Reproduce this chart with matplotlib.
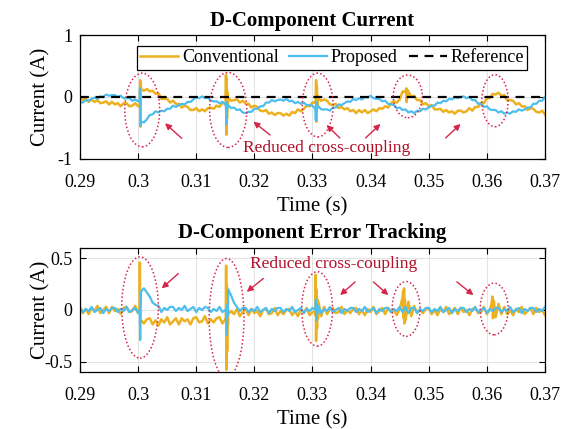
import numpy as np
import matplotlib
matplotlib.use("Agg")
import matplotlib.pyplot as plt
from matplotlib.patches import Ellipse

plt.rcParams['font.family'] = ['Liberation Serif', 'DejaVu Serif']
plt.rcParams['axes.unicode_minus'] = False

# sample grid (0.5 ms steps)
t = np.linspace(0.29, 0.37, 161)

# top plot - d-axis current, conventional
conv_cur = [0.00, -0.05, -0.03, -0.08, -0.04, -0.08, -0.05, -0.10, -0.09, -0.07,
            -0.12, -0.08, -0.12, -0.10, -0.15, -0.10, -0.10, -0.15, -0.14, -0.10,
            -0.15, 0.13, 0.10, 0.13, 0.09, 0.10, 0.05, 0.06, -0.03, -0.03,
            -0.03, -0.09, -0.06, -0.11, -0.11, -0.17, -0.14, -0.16, -0.21, -0.21,
            -0.18, -0.23, -0.20, -0.23, -0.18, -0.17, -0.19, -0.14, -0.16, -0.09,
            -0.11, -0.01, -0.06, -0.05, -0.04, -0.09, -0.06, -0.11, -0.11, -0.17,
            -0.14, -0.16, -0.22, -0.23, -0.21, -0.27, -0.25, -0.29, -0.26, -0.26,
            -0.30, -0.27, -0.30, -0.24, -0.26, -0.20, -0.23, -0.19, -0.14, -0.15,
            -0.09, -0.09, -0.02, -0.06, -0.04, -0.06, -0.12, -0.13, -0.11, -0.18,
            -0.16, -0.20, -0.18, -0.23, -0.21, -0.26, -0.21, -0.25, -0.21, -0.26,
            -0.23, -0.20, -0.23, -0.18, -0.19, -0.15, -0.17, -0.10, -0.07, -0.09,
            -0.04, 0.09, 0.08, 0.09, 0.00, 0.02, -0.05, -0.05, -0.12, -0.10,
            -0.15, -0.13, -0.20, -0.20, -0.19, -0.24, -0.21, -0.25, -0.23, -0.27,
            -0.22, -0.22, -0.25, -0.23, -0.18, -0.22, -0.16, -0.16, -0.09, -0.10,
            -0.02, -0.02, 0.05, 0.04, 0.07, 0.02, 0.03, -0.05, -0.05, -0.06,
            -0.12, -0.10, -0.15, -0.15, -0.21, -0.18, -0.19, -0.24, -0.25, -0.22,
            -0.28]
conv_cur_spk_t = [0.30030, 0.30036, 0.30042, 0.30046,
                  0.31505, 0.31512, 0.31518, 0.31524, 0.31530, 0.31538, 0.31545,
                  0.33055, 0.33062, 0.33068, 0.33075, 0.33082, 0.33090,
                  0.34615, 0.34622, 0.34630, 0.34638]
conv_cur_spk_v = [-0.14, 0.27, -0.48, 0.22,
                  -0.12, 0.36, -0.61, 0.30, -0.35, 0.08, -0.10,
                  -0.08, 0.27, -0.40, 0.18, -0.15, 0.02,
                  0.14, -0.08, 0.12, 0.02]

# top plot - proposed
prop_cur = [-0.08, -0.09, -0.05, -0.06, -0.03, -0.01, -0.03, 0.01, 0.00, 0.04,
            0.02, 0.03, 0.03, 0.00, 0.02, -0.02, -0.02, -0.02, -0.06, -0.04,
            -0.07, -0.40, -0.41, -0.36, -0.29, -0.28, -0.23, -0.25, -0.22, -0.23,
            -0.19, -0.19, -0.14, -0.16, -0.13, -0.11, -0.12, -0.08, -0.08, -0.04,
            0.00, -0.02, 0.01, -0.02, -0.01, -0.06, -0.07, -0.07, -0.10, -0.08,
            -0.12, -0.13, -0.18, -0.17, -0.21, -0.20, -0.25, -0.26, -0.24, -0.24,
            -0.19, -0.19, -0.15, -0.15, -0.09, -0.09, -0.05, -0.07, -0.05, -0.04,
            -0.06, -0.03, -0.07, -0.06, -0.10, -0.08, -0.11, -0.09, -0.13, -0.13,
            -0.14, -0.19, -0.15, -0.20, -0.20, -0.20, -0.22, -0.17, -0.17, -0.12,
            -0.13, -0.10, -0.07, -0.08, -0.03, -0.05, -0.02, -0.04, 0.00, -0.01,
            0.02, -0.02, -0.03, -0.03, -0.07, -0.06, -0.11, -0.12, -0.13, -0.18,
            -0.17, -0.21, -0.20, -0.25, -0.23, -0.26, -0.22, -0.23, -0.19, -0.20,
            -0.17, -0.14, -0.14, -0.09, -0.10, -0.06, -0.07, -0.03, -0.04, 0.00,
            -0.02, 0.00, 0.01, -0.02, 0.00, -0.05, -0.05, -0.11, -0.11, -0.16,
            -0.15, -0.20, -0.21, -0.21, -0.25, -0.23, -0.27, -0.25, -0.27, -0.23,
            -0.24, -0.20, -0.22, -0.20, -0.17, -0.17, -0.11, -0.11, -0.06, -0.06,
            0.00]
prop_cur_spk_t = [0.30025, 0.30032, 0.30038, 0.30044,
                  0.31510, 0.31518, 0.31525, 0.31532, 0.31540,
                  0.33050, 0.33058, 0.33065, 0.33072, 0.33085]
prop_cur_spk_v = [-0.07, 0.14, -0.20, -0.46,
                  -0.12, -0.44, -0.08, -0.20, -0.12,
                  -0.18, -0.38, -0.08, -0.22, -0.17]

# bottom plot - tracking error, conventional
conv_err = [0.03, -0.03, 0.01, -0.04, 0.02, -0.01, 0.04, -0.03, 0.00, 0.03,
            -0.03, 0.03, -0.01, 0.01, -0.04, 0.02, 0.03, -0.02, -0.01, 0.04,
            -0.03, -0.10, -0.13, -0.09, -0.08, -0.14, -0.10, -0.15, -0.09, -0.12,
            -0.07, -0.14, -0.11, -0.08, -0.14, -0.08, -0.11, -0.09, -0.14, -0.08,
            -0.07, -0.12, -0.11, -0.06, -0.13, -0.09, -0.12, -0.08, -0.07, -0.13,
            -0.09, -0.04, -0.01, -0.04, 0.01, -0.06, -0.02, 0.01, -0.05, 0.01,
            -0.03, -0.01, -0.06, 0.00, 0.01, -0.04, -0.03, 0.02, -0.05, -0.01,
            -0.04, 0.00, 0.01, -0.05, -0.01, -0.06, 0.00, -0.03, 0.02, -0.05,
            -0.02, -0.05, 0.08, -0.06, 0.03, -0.04, 0.01, 0.02, -0.03, -0.02,
            0.03, -0.04, 0.00, -0.03, 0.01, 0.02, -0.04, 0.00, -0.05, 0.01,
            -0.02, 0.03, -0.04, -0.01, 0.02, -0.04, 0.02, -0.02, 0.00, -0.05,
            0.01, 0.12, -0.10, 0.08, -0.06, 0.04, -0.03, 0.00, -0.03, 0.01,
            0.02, -0.04, 0.00, -0.05, 0.01, -0.02, 0.03, -0.04, -0.01, 0.02,
            -0.04, 0.02, -0.02, 0.00, -0.05, 0.01, 0.02, -0.03, -0.02, 0.03,
            -0.04, 0.00, 0.10, -0.07, 0.06, -0.04, 0.03, -0.04, 0.00, -0.05,
            0.01, -0.02, 0.03, -0.04, -0.01, 0.02, -0.04, 0.02, -0.02, 0.00,
            -0.05]
conv_err_spk_t = [0.30025, 0.30030, 0.30036, 0.30042,
                  0.31508, 0.31514, 0.31520, 0.31526, 0.31532, 0.31538, 0.31545,
                  0.33045, 0.33055, 0.33062, 0.33070, 0.33078, 0.33088, 0.33095,
                  0.34560, 0.34568, 0.34575, 0.34582, 0.34590,
                  0.36080, 0.36095, 0.36105, 0.36120]
conv_err_spk_v = [0.02, 0.46, -0.02, -0.12,
                  -0.10, 0.43, -0.58, 0.25, -0.40, 0.10, -0.15,
                  -0.02, 0.34, -0.30, 0.20, -0.18, 0.10, -0.08,
                  0.18, -0.08, 0.21, -0.13, 0.10,
                  0.06, 0.13, -0.08, 0.09]

# bottom plot - proposed
prop_err = [0.02, -0.02, 0.01, -0.01, 0.03, -0.02, 0.00, 0.02, -0.03, 0.01,
            -0.01, 0.02, 0.02, -0.02, 0.01, -0.01, 0.03, -0.02, 0.00, 0.02,
            -0.03, 0.18, 0.21, 0.17, 0.13, 0.07, 0.05, 0.04, -0.02, 0.02,
            0.00, 0.03, 0.03, -0.01, 0.02, 0.00, 0.04, -0.01, 0.01, 0.03,
            -0.02, 0.02, 0.00, 0.03, 0.02, -0.02, 0.01, -0.01, 0.03, -0.02,
            0.00, 0.20, 0.14, 0.07, 0.03, -0.01, 0.02, 0.02, -0.02, 0.01,
            -0.01, 0.03, -0.02, 0.00, 0.02, -0.03, 0.01, -0.01, 0.02, 0.02,
            -0.02, 0.01, -0.01, 0.03, -0.02, 0.00, 0.02, -0.03, 0.01, -0.01,
            0.02, 0.00, 0.04, -0.03, 0.01, -0.01, 0.03, -0.02, 0.00, 0.02,
            -0.03, 0.01, -0.01, 0.02, 0.02, -0.02, 0.01, -0.01, 0.03, -0.02,
            0.00, 0.02, -0.03, 0.01, -0.01, 0.02, 0.02, -0.02, 0.01, -0.01,
            0.03, -0.02, 0.03, -0.03, 0.02, 0.02, -0.03, 0.01, -0.01, 0.02,
            0.02, -0.02, 0.01, -0.01, 0.03, -0.02, 0.00, 0.02, -0.03, 0.01,
            -0.01, 0.02, 0.02, -0.02, 0.01, -0.01, 0.03, -0.02, 0.00, 0.02,
            -0.03, 0.01, -0.01, 0.02, 0.02, -0.02, 0.01, -0.01, 0.03, -0.02,
            0.00, 0.02, -0.03, 0.01, -0.01, 0.02, 0.02, -0.02, 0.01, -0.01,
            0.03]
prop_err_spk_t = [0.30028, 0.30036, 0.30044, 0.30048,
                  0.31515, 0.31525, 0.31535, 0.31545,
                  0.33050, 0.33058, 0.33066, 0.33075, 0.33085]
prop_err_spk_v = [0.00, -0.29, 0.05, 0.10,
                  0.01, -0.24, 0.05, -0.05,
                  0.00, 0.10, -0.10, 0.06, -0.03]

# highlighted regions: (center t, center value, width, height)
top_ellipses = [(0.3007, -0.21, 0.0060, 1.19), (0.3155, -0.21, 0.0064, 1.21),
                (0.3309, -0.13, 0.0053, 1.03), (0.3464, 0.01, 0.0050, 0.69),
                (0.3614, -0.06, 0.0045, 0.84)]
bot_ellipses = [(0.30033, 0.024, 0.0063, 0.98), (0.31522, -0.077, 0.0060, 1.15),
                (0.33080, 0.01, 0.0053, 0.72), (0.34611, 0.01, 0.0048, 0.53),
                (0.36126, 0.01, 0.0048, 0.50)]
# arrows: (tail, head)
top_arrows = [((0.30750, -0.666), (0.30463, -0.424)), ((0.32270, -0.613), (0.31983, -0.398)),
              ((0.33470, -0.661), (0.33242, -0.452)), ((0.33913, -0.661), (0.34170, -0.435)),
              ((0.35290, -0.661), (0.35549, -0.435))]
bot_arrows = [((0.30692, 0.353), (0.30406, 0.209)), ((0.32155, 0.305), (0.31869, 0.176)),
              ((0.33733, 0.272), (0.33475, 0.144)), ((0.34048, 0.272), (0.34306, 0.144)),
              ((0.35484, 0.272), (0.35769, 0.144))]

ORANGE = '#EDB120'
BLUE = '#4DBEEE'
ELL_C = '#D6254A'
TXT_C = '#B0102A'


def merge(tb, vb, ts, vs):
    tt = np.concatenate([tb, ts])
    vv = np.concatenate([vb, vs])
    idx = np.argsort(tt, kind='stable')
    return tt[idx], vv[idx]


def style_axes(ax, yticks, ylim):
    ax.set_xlim(0.29, 0.37)
    ax.set_ylim(*ylim)
    ax.set_xticks(np.linspace(0.29, 0.37, 9))
    ax.set_xticklabels(['0.29', '0.3', '0.31', '0.32', '0.33', '0.34', '0.35', '0.36', '0.37'])
    ax.set_yticks(yticks)
    ax.set_yticklabels(['%g' % y for y in yticks])
    ax.grid(True, color='#E3E3E3', lw=0.8)
    ax.set_axisbelow(True)
    ax.tick_params(direction='in', top=True, right=True, labelsize=13, length=4, width=0.8)
    ax.tick_params(axis='x', pad=11)
    ax.tick_params(axis='y', pad=5.5)
    for s in ax.spines.values():
        s.set_linewidth(0.9)
    ax.set_xlabel('Time (s)', fontsize=15, labelpad=4)
    ax.set_ylabel('Current (A)', fontsize=15)
    ax.yaxis.set_label_coords(-0.064, 0.5)


def annotate(ax, ellipses, arrows, txt_pos):
    for cx, cy, w, h in ellipses:
        ax.add_patch(Ellipse((cx, cy), w, h, fill=False, ls=(0, (1, 1.5)),
                             edgecolor=ELL_C, lw=1.1, zorder=5))
    for tail, head in arrows:
        ax.annotate('', xy=head, xytext=tail,
                    arrowprops=dict(arrowstyle='-|>', color=ELL_C, lw=1.0,
                                    mutation_scale=9, shrinkA=0, shrinkB=0), zorder=6)
    ax.text(txt_pos[0], txt_pos[1], 'Reduced cross-coupling', color=TXT_C,
            fontsize=12.5, ha='center', va='center', zorder=6)


fig = plt.figure(figsize=(5.73, 4.29), dpi=100)
ax1 = fig.add_axes([0.1396, 0.6294, 0.8115, 0.289])
ax2 = fig.add_axes([0.1396, 0.1329, 0.8115, 0.289])

tc, vc = merge(t, conv_cur, conv_cur_spk_t, conv_cur_spk_v)
tp, vp = merge(t, prop_cur, prop_cur_spk_t, prop_cur_spk_v)
ax1.plot(tc, vc, color=ORANGE, lw=1.8, label='Conventional')
ax1.plot(tp, vp, color=BLUE, lw=1.6, label='Proposed')
ax1.plot([0.29, 0.37], [0, 0], color='black', ls=(0, (4, 3)), lw=1.6, label='Reference')
style_axes(ax1, [-1, 0, 1], (-1, 1))
ax1.set_title('D-Component Current', fontsize=15, fontweight='bold', pad=6.5)
leg = ax1.legend(ncol=3, loc='upper right', bbox_to_anchor=(0.962, 0.915), fontsize=13,
                 frameon=True, fancybox=False, edgecolor='black', framealpha=1,
                 handlelength=2.1, handletextpad=0.2, columnspacing=0.6,
                 borderpad=0.2, borderaxespad=0)
leg.get_frame().set_linewidth(0.9)
annotate(ax1, top_ellipses, top_arrows, (0.3325, -0.82))

tc, vc = merge(t, conv_err, conv_err_spk_t, conv_err_spk_v)
tp, vp = merge(t, prop_err, prop_err_spk_t, prop_err_spk_v)
ax2.plot(tc, vc, color=ORANGE, lw=1.8)
ax2.plot(tp, vp, color=BLUE, lw=1.6)
style_axes(ax2, [-0.5, 0, 0.5], (-0.6, 0.6))
ax2.set_title('D-Component Error Tracking', fontsize=15, fontweight='bold', pad=7)
annotate(ax2, bot_ellipses, bot_arrows, (0.3336, 0.45))

fig.savefig('out.png', dpi=100)
